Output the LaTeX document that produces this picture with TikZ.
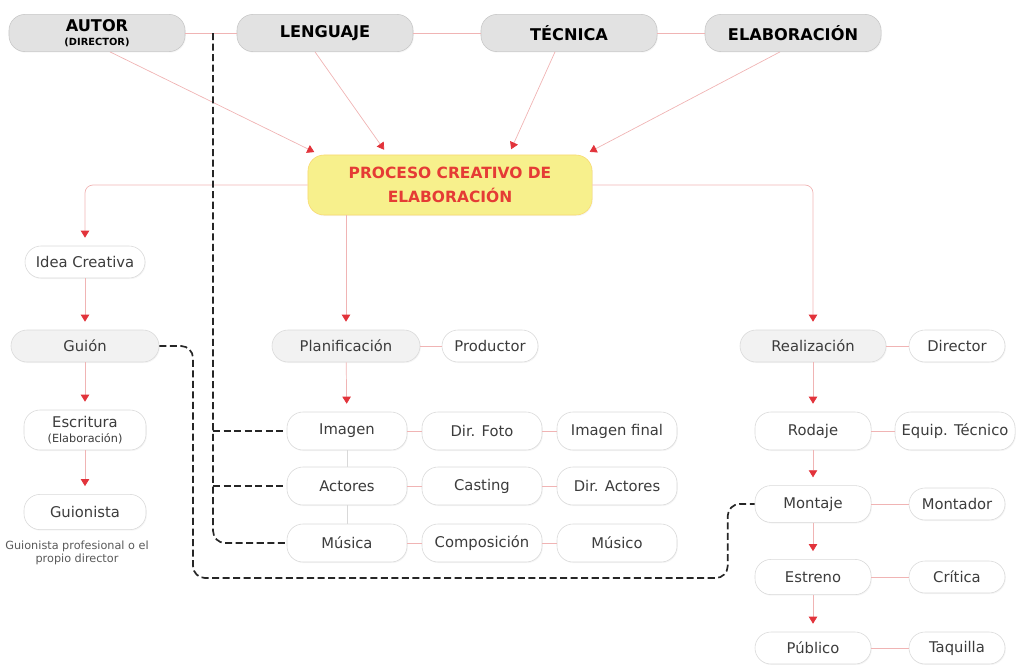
\documentclass[tikz,border=0pt]{standalone}
\usepackage{fontspec}
\setmainfont{DejaVu Sans}
\usetikzlibrary{arrows.meta,calc,shadows}
\definecolor{mmred}{HTML}{E2333B}
\definecolor{mmpink}{HTML}{F0B4B4}
\definecolor{mmyellow}{HTML}{F7F08C}
\definecolor{mmgray}{HTML}{E2E2E2}
\definecolor{mmlight}{HTML}{F2F2F2}
\definecolor{mmtext}{HTML}{3C3C3C}

\begin{document}
\begin{tikzpicture}[x=0.025cm, y=-0.025cm,
  box/.style={draw=black!15, line width=0.4pt, rounded corners=0.4cm, inner sep=1pt, align=center, text=mmtext, fill=white, font=\fontsize{10.5}{12}\selectfont, drop shadow={opacity=0.08, shadow xshift=0.6pt, shadow yshift=-0.8pt}},
  topbox/.style={box, fill=mmgray, draw=black!22, text=black, minimum width=4.4cm, minimum height=0.93cm, font=\bfseries\fontsize{11.5}{12}\selectfont},
  graybox/.style={box, fill=mmlight, minimum width=3.7cm, minimum height=0.8cm},
  wbox/.style={box, minimum width=3cm, minimum height=0.95cm},
  sbox/.style={box, minimum width=2.4cm, minimum height=0.8cm},
  procbox/.style={box, fill=mmyellow, draw=mmyellow!80!orange, text=mmred!90!orange, minimum width=7.1cm, minimum height=1.5cm, font=\bfseries\fontsize{11}{17}\selectfont},
  link/.style={draw=mmpink, line width=0.5pt},
  flow/.style={link, -{Triangle[color=mmred, length=5pt, width=6pt]}, shorten >=0.2cm},
  dashlink/.style={draw=black!85, line width=1.2pt, dash pattern=on 5pt off 2.5pt, rounded corners=0.3cm},
  note/.style={text=black!65, align=center, font=\fontsize{8}{9.5}\selectfont}
]
\useasboundingbox (0,0) rectangle (1016,664);

% top row
\node[topbox] (autor) at (97,33) {AUTOR\\[-2pt]{\fontsize{7}{7}\selectfont (DIRECTOR)}};
\node[topbox] (lenguaje) at (325,33) {LENGUAJE};
\node[topbox] (tecnica) at (569,33) {TÉCNICA};
\node[topbox] (elaboracion) at (793,33) {ELABORACIÓN};
\node[procbox] (proceso) at (450,185) {PROCESO CREATIVO DE\\ELABORACIÓN};

% left column
\node[wbox, minimum height=0.8cm] (idea) at (85,262) {Idea Creativa};
\node[graybox] (guion) at (85,346) {Guión};
\node[wbox, minimum width=3.05cm, minimum height=1cm] (escritura) at (85,430) {Escritura\\[-1pt]{\fontsize{8}{9}\selectfont (Elaboración)}};
\node[wbox, minimum width=3.05cm, minimum height=0.88cm] (guionista) at (85,512) {Guionista};
\node[note] (guionnote) at (77,553) {Guionista profesional o el\\propio director};

% middle column
\node[graybox] (planif) at (346,346) {Planificación};
\node[sbox] (productor) at (490,346) {Productor};
\node[wbox] (imagen) at (347,431) {Imagen};
\node[wbox] (dirfoto) at (482,431) {Dir. Foto};
\node[wbox] (imgfinal) at (617,431) {Imagen final};
\node[wbox] (actores) at (347,486) {Actores};
\node[wbox] (casting) at (482,486) {Casting};
\node[wbox] (diractores) at (617,486) {Dir. Actores};
\node[wbox] (musica) at (347,543) {Música};
\node[wbox] (composicion) at (482,543) {Composición};
\node[wbox] (musico) at (617,543) {Músico};

% right column
\node[graybox, minimum width=3.65cm] (realiz) at (813,346) {Realización};
\node[sbox] (director) at (957,346) {Director};
\node[wbox, minimum width=2.9cm] (rodaje) at (813,431) {Rodaje};
\node[wbox] (equip) at (955,431) {Equip. Técnico};
\node[wbox, minimum width=2.9cm, minimum height=0.92cm] (montaje) at (813,504) {Montaje};
\node[sbox] (montador) at (957,504) {Montador};
\node[wbox, minimum width=2.9cm, minimum height=0.88cm] (estreno) at (813,577) {Estreno};
\node[sbox] (critica) at (957,577) {Crítica};
\node[wbox, minimum width=2.9cm, minimum height=0.8cm] (publico) at (813,648) {Público};
\node[sbox] (taquilla) at (957,648) {Taquilla};

% plain links
\draw[link] (autor) -- coordinate[pos=0.54] (dtop) (lenguaje);
\draw[link] (lenguaje) -- (tecnica);
\draw[link] (tecnica) -- (elaboracion);
\draw[link] (planif) -- (productor);
\draw[link] (imagen) -- (dirfoto);
\draw[link] (dirfoto) -- (imgfinal);
\draw[link] (actores) -- (casting);
\draw[link] (casting) -- (diractores);
\draw[link] (musica) -- (composicion);
\draw[link] (composicion) -- (musico);
\draw[draw=black!15, line width=0.5pt] (imagen) -- (actores);
\draw[draw=black!15, line width=0.5pt] (actores) -- (musica);
\draw[link] (realiz) -- (director);
\draw[link] (rodaje) -- (equip);
\draw[link] (montaje) -- (montador);
\draw[link] (estreno) -- (critica);
\draw[link] (publico) -- (taquilla);

% arrows into the process
\draw[flow, shorten >=0.15cm] ($(autor.south)+(13,0)$) -- ($(proceso.north west)+(12,0)$);
\draw[flow, shorten >=0.15cm] ($(lenguaje.south)+(-10,0)$) -- ($(proceso.north west)+(80,0)$);
\draw[flow, shorten >=0.15cm] ($(tecnica.south)+(-14,0)$) -- ($(proceso.north west)+(201,0)$);
\draw[flow, shorten >=0.15cm] ($(elaboracion.south)+(-13,0)$) -- ($(proceso.north east)+(-8,0)$);

% arrows out of the process
\draw[flow, rounded corners=0.2cm] (proceso.west) -| (idea.north);
\draw[flow] (proceso.south -| planif.north) -- (planif.north);
\draw[flow, rounded corners=0.2cm] (proceso.east) -| (realiz.north);

% chains
\draw[flow] (idea) -- (guion);
\draw[flow] (guion) -- (escritura);
\draw[flow] (escritura) -- (guionista);
\draw[flow] (planif) -- (imagen);
\draw[flow] (realiz) -- (rodaje);
\draw[flow] (rodaje) -- (montaje);
\draw[flow] (montaje) -- (estreno);
\draw[flow] (estreno) -- (publico);

% dashed links
\draw[dashlink] (dtop) |- (musica.west);
\draw[dashlink] (dtop |- imagen.west) -- (imagen.west);
\draw[dashlink] (dtop |- actores.west) -- (actores.west);
\draw[dashlink] (guion.east) -| (193,578) -| ($(montaje.west)+(-27,0)$) -- (montaje.west);
\end{tikzpicture}
\end{document}
